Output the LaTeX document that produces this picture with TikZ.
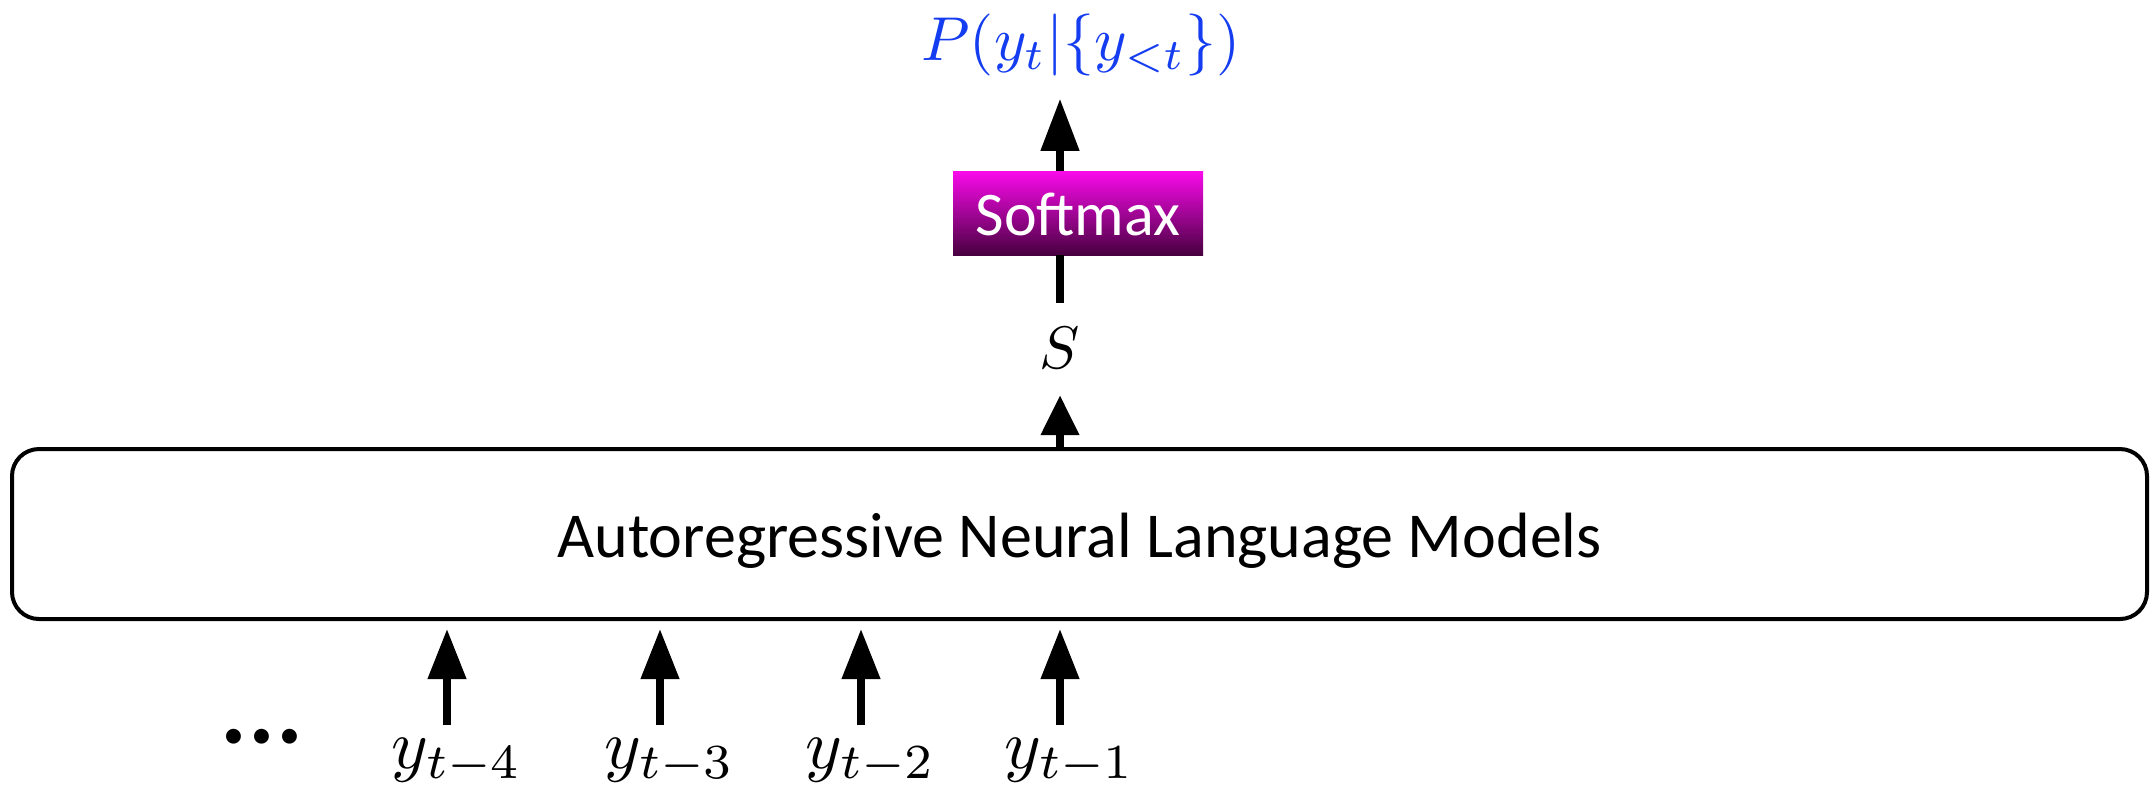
\documentclass[tikz,border=0pt]{standalone}
\usepackage{fontspec}
\newfontfamily\calibri{Carlito}
\usetikzlibrary{arrows.meta}
\definecolor{outblue}{RGB}{20,60,240}
\definecolor{smtop}{RGB}{250,10,235}
\definecolor{smbot}{RGB}{72,0,64}
\tikzset{
  arr/.style={line width=3.75pt,-{Triangle[width=18.5pt,length=25pt]}},
  lmbox/.style={draw,line width=2pt,rounded corners=13.5pt,minimum width=1067.5pt,minimum height=85pt,inner sep=0pt,
    font=\calibri\fontsize{32}{38}\selectfont,text height=23pt,text depth=0pt},
  smbox/.style={top color=smtop,bottom color=smbot,minimum width=125pt,minimum height=42pt,inner sep=0pt,
    text=white,font=\calibri\fontsize{31}{37}\selectfont,text height=22pt,text depth=0pt},
  inlabel/.style={anchor=base,inner sep=0pt,scale=3.5},
}
\begin{document}
\begin{tikzpicture}[x=0.5pt,y=-0.5pt]
\useasboundingbox (0,0) rectangle (2156,784);
% nodes
\node[lmbox] (lm) at (1079.5,534) {Autoregressive Neural Language Models};
\node[smbox] (sm) at (1078,213) {Softmax};
\node[anchor=base,inner sep=0pt,scale=3] (s) at (1060,368) {$S$};
\node[anchor=base,inner sep=0pt,text=outblue,scale=3.1] (out) at (1081,60) {$P(y_t|\{y_{<t}\})$};
\node[inlabel] (in4) at (457,768) {$y_{t-4}$};
\node[inlabel] (in3) at (670,768) {$y_{t-3}$};
\node[inlabel] (in2) at (871,768) {$y_{t-2}$};
\node[inlabel] (in1) at (1070,768) {$y_{t-1}$};
\node[anchor=base,inner sep=0pt,font=\calibri\fontsize{21}{26}\selectfont] (dots) at (262,748) {\makebox[14pt]{•}\makebox[14pt]{•}\makebox[14pt]{•}};
% connectors
\foreach \n in {in4,in3,in2,in1}{
  \draw[arr,shorten <=5.5pt,shorten >=4pt] ([xshift=-5pt]\n.north) -- ([xshift=-5pt]\n.north |- lm.south);
}
\draw[line width=3.75pt,-{Triangle[width=18.5pt,length=20pt]},shorten >=13pt] (lm.north -| s) -- (s.south);
\draw[line width=3.75pt,shorten <=11.5pt] (s.north) -- (sm.south -| s);
\draw[line width=3.75pt,-{Triangle[width=18.5pt,length=26pt]},shorten >=11pt] (sm.north -| s) -- (out.south -| s);
\end{tikzpicture}
\end{document}
